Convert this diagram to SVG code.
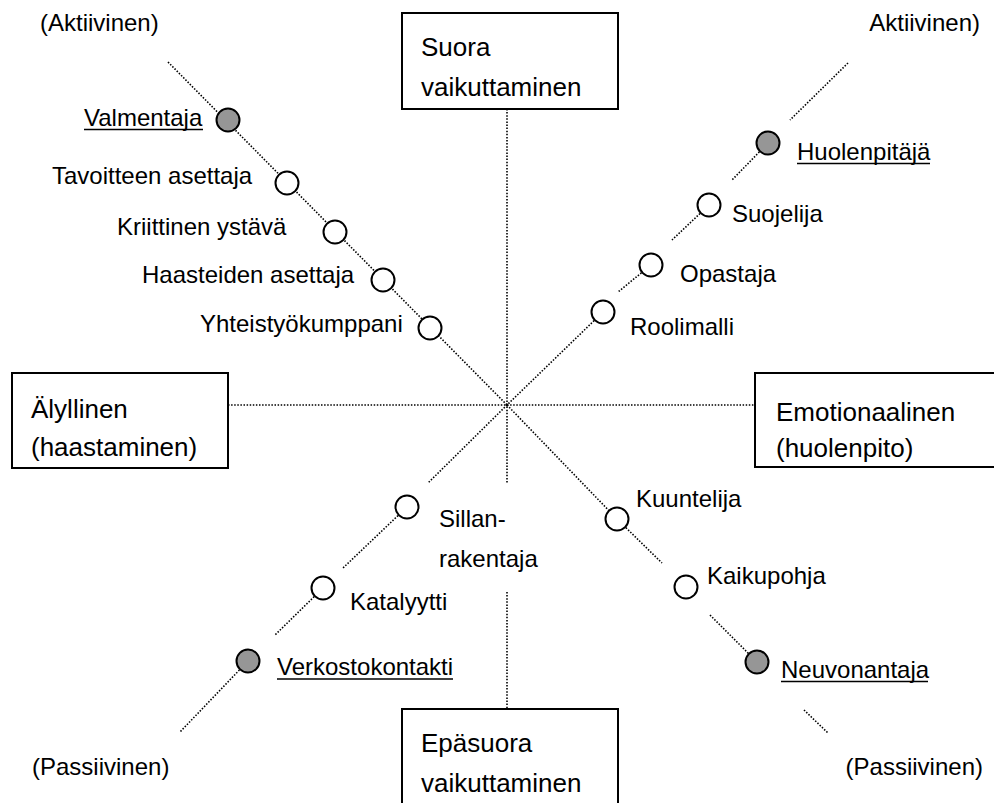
<svg xmlns="http://www.w3.org/2000/svg" width="994" height="803" viewBox="0 0 994 803">
  <style>
    text { font-family: "Liberation Sans", Arial, sans-serif; fill: #000; }
    .lbl { font-size: 24px; }
    .box-text { font-size: 26px; }
    .box { fill: #fff; stroke: #000; stroke-width: 2; }
    .dot { stroke: #000; stroke-width: 1.6; stroke-dasharray: 1.5 1.6; fill: none; }
    .role { stroke: #000; stroke-width: 2; fill: #fff; }
    .role.key { fill: #969696; }
    .ul { stroke: #000; stroke-width: 1.6; }
  </style>

  <rect width="994" height="803" fill="#fff"/>

  <!-- axis and diagonal connectors -->
  <g id="connectors">
    <line class="dot" x1="507" y1="109" x2="507" y2="483"/>
    <line class="dot" x1="507" y1="592" x2="507" y2="709"/>
    <line class="dot" x1="228" y1="405" x2="754" y2="405"/>
    <!-- intellectual / active -->
    <line class="dot" x1="168" y1="62" x2="507" y2="405"/>
    <!-- emotional / active -->
    <line class="dot" x1="848" y1="63" x2="790" y2="120"/>
    <line class="dot" x1="768" y1="143" x2="732" y2="180"/>
    <line class="dot" x1="709" y1="205" x2="672" y2="240"/>
    <line class="dot" x1="651" y1="265" x2="618" y2="292"/>
    <line class="dot" x1="603" y1="312" x2="507" y2="405"/>
    <!-- intellectual / passive -->
    <line class="dot" x1="507" y1="405" x2="428" y2="483"/>
    <line class="dot" x1="407" y1="507" x2="343" y2="568"/>
    <line class="dot" x1="323" y1="588" x2="275" y2="635"/>
    <line class="dot" x1="248" y1="661" x2="180" y2="732"/>
    <!-- emotional / passive -->
    <line class="dot" x1="507" y1="405" x2="617" y2="519"/>
    <line class="dot" x1="617" y1="519" x2="662" y2="563"/>
    <line class="dot" x1="710" y1="615" x2="757" y2="662"/>
    <line class="dot" x1="804" y1="710" x2="828" y2="733"/>
  </g>

  <!-- axis boxes -->
  <g id="suora">
    <rect class="box" x="402" y="13" width="216" height="96"/>
    <text class="box-text" x="421" y="56">Suora</text>
    <text class="box-text" x="421" y="96">vaikuttaminen</text>
  </g>
  <g id="epasuora">
    <rect class="box" x="402" y="709" width="216" height="110"/>
    <text class="box-text" x="421" y="752">Epäsuora</text>
    <text class="box-text" x="421" y="792">vaikuttaminen</text>
  </g>
  <g id="alyllinen">
    <rect class="box" x="12" y="373" width="216" height="95"/>
    <text class="box-text" x="31" y="418">Älyllinen</text>
    <text class="box-text" x="31" y="456">(haastaminen)</text>
  </g>
  <g id="emotionaalinen">
    <rect class="box" x="755" y="373" width="260" height="94"/>
    <text class="box-text" x="776" y="421">Emotionaalinen</text>
    <text class="box-text" x="776" y="457">(huolenpito)</text>
  </g>

  <!-- pole labels -->
  <g id="poles">
    <text class="lbl" x="40" y="31">(Aktiivinen)</text>
    <text class="lbl" x="980" y="31" text-anchor="end">Aktiivinen)</text>
    <text class="lbl" x="32" y="775">(Passiivinen)</text>
    <text class="lbl" x="983" y="775" text-anchor="end">(Passiivinen)</text>
  </g>

  <!-- roles: intellectual / active -->
  <g id="valmentaja">
    <circle class="role key" cx="228" cy="120" r="11.5"/>
    <text class="lbl" x="84" y="126">Valmentaja</text>
    <line class="ul" x1="84" y1="129.5" x2="203" y2="129.5"/>
  </g>
  <g id="tavoitteen-asettaja">
    <circle class="role" cx="287" cy="183" r="11.5"/>
    <text class="lbl" x="52" y="184">Tavoitteen asettaja</text>
  </g>
  <g id="kriittinen-ystava">
    <circle class="role" cx="335" cy="232" r="11.5"/>
    <text class="lbl" x="117" y="235">Kriittinen ystävä</text>
  </g>
  <g id="haasteiden-asettaja">
    <circle class="role" cx="383" cy="280" r="11.5"/>
    <text class="lbl" x="142" y="283">Haasteiden asettaja</text>
  </g>
  <g id="yhteistyokumppani">
    <circle class="role" cx="430" cy="328" r="11.5"/>
    <text class="lbl" x="200" y="332">Yhteistyökumppani</text>
  </g>

  <!-- roles: emotional / active -->
  <g id="huolenpitaja">
    <circle class="role key" cx="768" cy="143" r="11.5"/>
    <text class="lbl" x="797" y="160">Huolenpitäjä</text>
    <line class="ul" x1="797" y1="163.5" x2="930" y2="163.5"/>
  </g>
  <g id="suojelija">
    <circle class="role" cx="709" cy="205" r="11.5"/>
    <text class="lbl" x="732" y="222">Suojelija</text>
  </g>
  <g id="opastaja">
    <circle class="role" cx="651" cy="265" r="11.5"/>
    <text class="lbl" x="680" y="282">Opastaja</text>
  </g>
  <g id="roolimalli">
    <circle class="role" cx="603" cy="312" r="11.5"/>
    <text class="lbl" x="630" y="335">Roolimalli</text>
  </g>

  <!-- roles: intellectual / passive -->
  <g id="sillanrakentaja">
    <circle class="role" cx="407" cy="507" r="11.5"/>
    <text class="lbl" x="439" y="527">Sillan-</text>
    <text class="lbl" x="439" y="567">rakentaja</text>
  </g>
  <g id="katalyytti">
    <circle class="role" cx="323" cy="588" r="11.5"/>
    <text class="lbl" x="350" y="610">Katalyytti</text>
  </g>
  <g id="verkostokontakti">
    <circle class="role key" cx="248" cy="661" r="11.5"/>
    <text class="lbl" x="277" y="675">Verkostokontakti</text>
    <line class="ul" x1="277" y1="679" x2="453" y2="679"/>
  </g>

  <!-- roles: emotional / passive -->
  <g id="kuuntelija">
    <circle class="role" cx="617" cy="519" r="11.5"/>
    <text class="lbl" x="636" y="507">Kuuntelija</text>
  </g>
  <g id="kaikupohja">
    <circle class="role" cx="686" cy="587" r="11.5"/>
    <text class="lbl" x="707" y="584">Kaikupohja</text>
  </g>
  <g id="neuvonantaja">
    <circle class="role key" cx="757" cy="662" r="11.5"/>
    <text class="lbl" x="781" y="678">Neuvonantaja</text>
    <line class="ul" x1="781" y1="681.5" x2="928" y2="681.5"/>
  </g>
</svg>
